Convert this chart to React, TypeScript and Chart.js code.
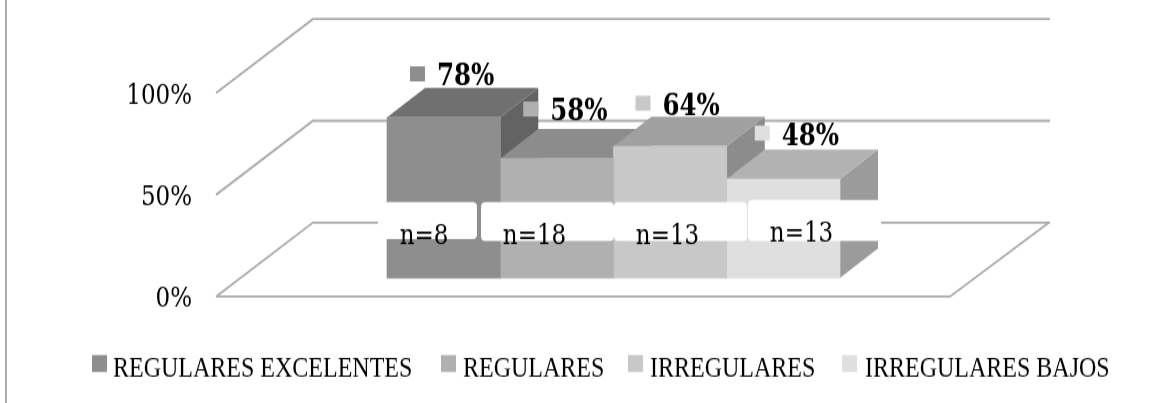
import React, { useEffect, useRef } from "react";
import { Chart, registerables } from "chart.js";

Chart.register(...registerables);

const seriesNames = ["REGULARES EXCELENTES", "REGULARES", "IRREGULARES", "IRREGULARES BAJOS"];
const seriesValues = [78, 58, 64, 48];
const sampleSizes = ["n=8", "n=18", "n=13", "n=13"];
const frontColors = ["#8e8e8e", "#b0b0b0", "#c8c8c8", "#dfdfdf"];
const topColors = ["#707070", "#8c8c8c", "#a0a0a0", "#b2b2b2"];
const sideColors = ["#636363", "#7b7b7b", "#8c8c8c", "#9b9b9b"];
const yTicks = [0, 50, 100];

const W = 1161;
const H = 403;
const BITMAP_H = 322;
const S = H / BITMAP_H;
const sy = (y: number) => y / S;
const LINE = "#ababab";
const SERIF = "'Liberation Serif', serif";
const NUM = "'DejaVu Serif', serif";

const labelOffsets = [
  { x: 23, y: -51 },
  { x: 23, y: -57 },
  { x: 22, y: -50.5 },
  { x: 28, y: -53.5 },
];
const noteBoxes = [
  { l: 378, r: 477, t: 202, b: 239, tx: 424, by: 244 },
  { l: 481, r: 614, t: 202, b: 241, tx: 534.5, by: 244 },
  { l: 614, r: 747, t: 202, b: 241, tx: 667.5, by: 244 },
  { l: 748, r: 881, t: 200, b: 241, tx: 801.5, by: 241.5 },
];
const legendSwatchX = [92, 441, 628, 842];
const legendTextX = [113, 463, 650, 865];

const threeD = {
  id: "threeD",
  beforeDatasetsDraw(chart: any) {
    const { ctx, chartArea: a, scales } = chart;
    const dx = 97;
    const dy = sy(74);
    ctx.save();
    ctx.strokeStyle = LINE;
    ctx.lineWidth = 1.8;
    for (const t of scales.y.ticks) {
      const y = scales.y.getPixelForValue(t.value);
      ctx.beginPath();
      ctx.moveTo(a.left, y);
      ctx.lineTo(a.left + dx, y - dy);
      ctx.lineTo(a.right + 100, y - dy);
      if (t.value === 0) {
        ctx.moveTo(a.left, y);
        ctx.lineTo(a.right, y);
        ctx.lineTo(a.right + 99, y - dy);
      }
      ctx.stroke();
    }
    // depth faces, left to right, behind the native front faces
    const bdx = 38;
    const bdy = sy(29.5);
    chart.data.datasets.forEach((_: any, i: number) => {
      const el = chart.getDatasetMeta(i).data[0];
      const l = el.x - el.width / 2;
      const r = el.x + el.width / 2;
      const t = el.y;
      const b = el.base;
      ctx.fillStyle = sideColors[i];
      ctx.beginPath();
      ctx.moveTo(r, t);
      ctx.lineTo(r + bdx, t - bdy);
      ctx.lineTo(r + bdx, b - bdy);
      ctx.lineTo(r, b);
      ctx.closePath();
      ctx.fill();
      ctx.fillStyle = topColors[i];
      ctx.beginPath();
      ctx.moveTo(l, t);
      ctx.lineTo(l + bdx, t - bdy);
      ctx.lineTo(r + bdx, t - bdy);
      ctx.lineTo(r, t);
      ctx.closePath();
      ctx.fill();
    });
    ctx.restore();
  },
  afterDatasetsDraw(chart: any) {
    const { ctx } = chart;
    ctx.save();
    // white note boxes with the sample sizes
    noteBoxes.forEach((n) => {
      ctx.fillStyle = "#ffffff";
      ctx.beginPath();
      ctx.roundRect(n.l, sy(n.t), n.r - n.l, sy(n.b - n.t), 4);
      ctx.fill();
    });
    ctx.fillStyle = "#000000";
    ctx.textAlign = "center";
    ctx.textBaseline = "alphabetic";
    ctx.font = `23px ${NUM}`;
    noteBoxes.forEach((n, i) => ctx.fillText(sampleSizes[i], n.tx, sy(n.by)));
    // value labels with their key squares
    chart.data.datasets.forEach((d: any, i: number) => {
      const el = chart.getDatasetMeta(i).data[0];
      const x = el.x - el.width / 2 + labelOffsets[i].x;
      const y = el.y + sy(labelOffsets[i].y);
      ctx.fillStyle = frontColors[i];
      ctx.fillRect(x, y, 15, sy(15));
      ctx.fillStyle = "#000000";
      ctx.textAlign = "left";
      ctx.font = `bold 24.5px ${NUM}`;
      ctx.fillText(seriesValues[i] + "%", x + 27, y + sy(19));
    });
    // legend
    ctx.font = `24px ${SERIF}`;
    chart.data.datasets.forEach((d: any, i: number) => {
      ctx.fillStyle = d.backgroundColor;
      ctx.fillRect(legendSwatchX[i], sy(355), 15, sy(17));
      ctx.fillStyle = "#000000";
      ctx.fillText(d.label, legendTextX[i], sy(377));
    });
    // left frame line
    ctx.fillStyle = LINE;
    ctx.fillRect(5, 0, 2, BITMAP_H);
    ctx.restore();
  },
};

export default function App() {
  const ref = useRef<HTMLCanvasElement>(null);
  useEffect(() => {
    const canvas = ref.current!;
    const chart = new Chart(canvas, {
      type: "bar",
      data: {
        datasets: seriesNames.map((label, i) => ({
          label,
          data: [{ x: 0.5457, y: seriesValues[i] }],
          backgroundColor: frontColors[i],
          borderWidth: 0,
          barThickness: 113.25,
          xAxisID: "x",
          yAxisID: "yBars",
        })),
      },
      options: {
        animation: false,
        responsive: false,
        devicePixelRatio: 1,
        layout: { padding: { left: 0, top: sy(93), right: W - 950, bottom: BITMAP_H - sy(296.5) } },
        plugins: { legend: { display: false }, tooltip: { enabled: false } },
        scales: {
          x: { type: "linear", display: false, min: 0, max: 1 },
          y: {
            position: "left",
            min: 0,
            max: 100,
            afterBuildTicks(s: any) {
              s.ticks = yTicks.map((value) => ({ value }));
            },
            afterFit(s: any) {
              s.width = 216;
            },
            grid: { display: false, drawTicks: false },
            border: { display: false },
            ticks: {
              padding: 24,
              labelOffset: 2.5,
              color: "#000000",
              font: { family: NUM, size: 23 },
              callback: (v: any) => v + "%",
            },
          },
          yBars: { display: false, min: -9, max: 89.8 },
        },
      } as any,
      plugins: [threeD],
    });
    canvas.style.height = H + "px";
    canvas.style.width = W + "px";
    return () => chart.destroy();
  }, []);
  return (
    <canvas
      ref={ref}
      width={W}
      height={BITMAP_H}
      style={{ position: "absolute", left: 0, top: 0, display: "block" }}
    />
  );
}
